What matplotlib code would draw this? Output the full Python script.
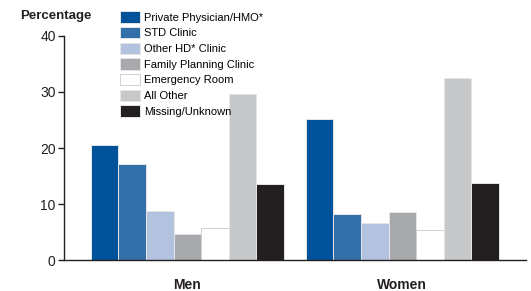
import numpy as np
import matplotlib
matplotlib.use("Agg")
import matplotlib.pyplot as plt

plt.rcParams['font.family'] = ['Liberation Sans', 'DejaVu Sans']

groups = ["Men", "Women"]
categories = ["Private Physician/HMO*", "STD Clinic", "Other HD* Clinic",
              "Family Planning Clinic", "Emergency Room", "All Other",
              "Missing/Unknown"]
men = [20.5, 17.2, 8.7, 4.6, 5.8, 29.7, 13.5]
women = [25.1, 8.2, 6.6, 8.5, 5.4, 32.5, 13.7]
colors = ["#00529b", "#336fa8", "#b3c3df", "#a7a9ac", "#ffffff", "#c7c8ca", "#231f20"]
edges = ["#e6e6e6", "#e6e6e6", "#e6e6e6", "#e6e6e6", "#d0d0d0", "#e6e6e6", "#e6e6e6"]

fig = plt.figure(figsize=(5.31, 2.91), dpi=100)
ax = fig.add_axes([0.1205, 0.1065, 0.8701, 0.7698])

x = np.arange(len(groups))
w = 0.1285
for i, cat in enumerate(categories):
    vals = [men[i], women[i]]
    ax.bar(x + (i - 3) * w, vals, width=w, color=colors[i], edgecolor=edges[i],
           linewidth=0.7, label=cat)

ax.set_xlim(-0.574, 1.575)
ax.set_ylim(0, 40)
ax.set_yticks([0, 10, 20, 30, 40])
ax.set_xticks(x)
ax.set_xticklabels(groups, fontsize=10, fontweight='bold', color='#231f20')
ax.tick_params(axis='x', length=0, pad=13)
ax.tick_params(axis='y', length=4, width=1, color='#231f20', labelsize=10,
               labelcolor='#231f20', pad=2)
for s in ['top', 'right']:
    ax.spines[s].set_visible(False)
for s in ['left', 'bottom']:
    ax.spines[s].set_color('#231f20')
    ax.spines[s].set_linewidth(1)

fig.text(0.038, 0.945, "Percentage", fontsize=9.5, fontweight='bold',
         color='#231f20', va='center', ha='left')

fig.legend(loc='upper left', bbox_to_anchor=(0.226, 0.961), frameon=False,
           fontsize=8, handlelength=1.8, handleheight=1.2, labelspacing=0.38,
           handletextpad=0.35, borderaxespad=0, borderpad=0)

fig.savefig("out.png", dpi=100)
